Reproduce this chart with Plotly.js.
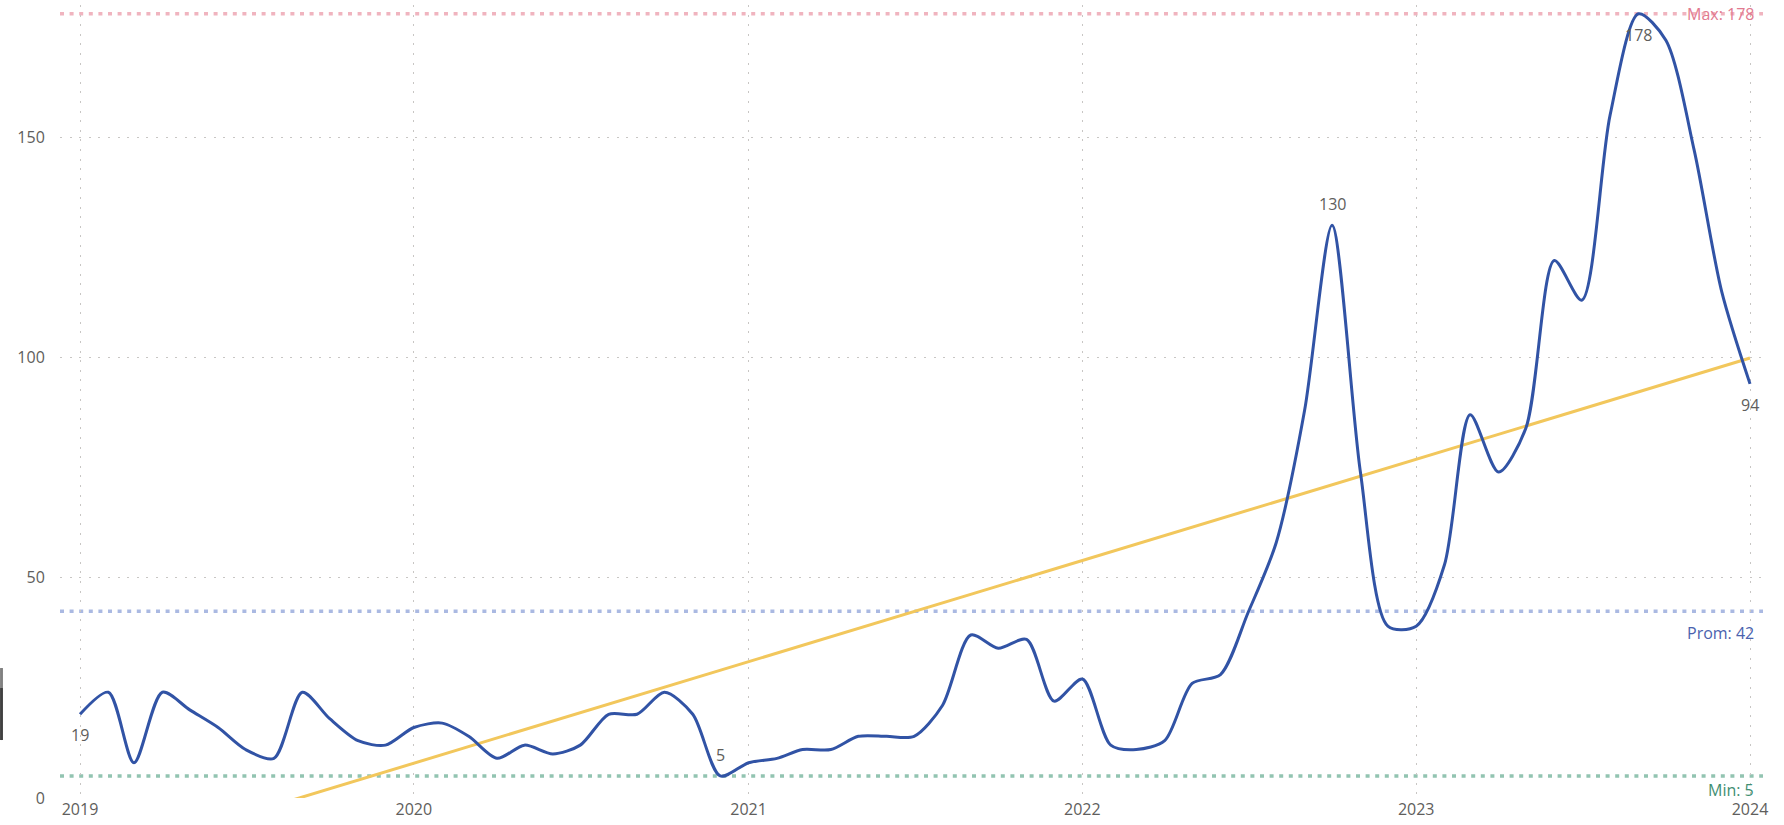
<!DOCTYPE html>
<html>
<head>
<meta charset="utf-8">
<script src="https://cdn.plot.ly/plotly-3.0.1.min.js"></script>
<style>
  html, body { margin: 0; padding: 0; background: #fff; }
  #chart { width: 1784px; height: 825px; }
</style>
</head>
<body>
<div id="chart"></div>
<script>
// monthly values, 2019-01 .. 2024-01
var startYear = 2019;
var values = [
  19, 24, 8, 24, 20, 16, 11, 9, 24, 18, 13, 12,
  16, 17, 14, 9, 12, 10, 12, 19, 19, 24, 19, 5,
  8, 9, 11, 11, 14, 14, 14, 21, 37, 34, 36, 22,
  27, 12, 11, 13, 26, 28, 42, 58, 88, 130, 74, 39,
  39, 53, 87, 74, 84, 122, 113, 155, 178, 172, 147, 115,
  94
];
// points that carry a value label, and where the label sits
var labelIdx = [0, 23, 45, 56, 60];
var labelPos = ['below', 'above', 'above', 'below', 'below'];

var lineColor = '#3153A5';
var trendColor = '#F2C75C';
var textGray = '#605E5C';

var months = [];
for (var i = 0; i < values.length; i++) {
  var y = startYear + Math.floor(i / 12);
  var m = (i % 12) + 1;
  months.push(y + '-' + (m < 10 ? '0' + m : m) + '-01');
}

// least squares trend
var n = values.length, sx = 0, sy = 0, sxy = 0, sxx = 0;
for (var i = 0; i < n; i++) {
  sx += i; sy += values[i]; sxy += i * values[i]; sxx += i * i;
}
var slope = (n * sxy - sx * sy) / (n * sxx - sx * sx);
var icpt = (sy - slope * sx) / n;
var trend = values.map(function(v, i) { return icpt + slope * i; });

var vMax = Math.max.apply(null, values);
var vMin = Math.min.apply(null, values);
var vAvg = sy / n;

var traceMain = {
  x: months, y: values, type: 'scatter', mode: 'lines',
  line: {color: lineColor, width: 3, shape: 'spline', smoothing: 0.8},
  hoverinfo: 'x+y'
};
var traceTrend = {
  x: [months[0], months[n - 1]], y: [trend[0], trend[n - 1]],
  type: 'scatter', mode: 'lines',
  line: {color: trendColor, width: 3},
  hoverinfo: 'skip'
};

function refLine(val, color) {
  return {
    type: 'line', xref: 'paper', x0: 0, x1: 1, yref: 'y', y0: val, y1: val,
    line: {color: color, width: 3.5, dash: '4px,5.6px'}, layer: 'below'
  };
}
function refLabel(text, val, color, shift) {
  return {
    xref: 'paper', x: 1, xanchor: 'right', xshift: -7,
    yref: 'y', y: val, yanchor: 'middle', yshift: shift,
    text: text, showarrow: false,
    font: {size: 16, color: color}
  };
}

var annotations = [
  refLabel('Max: ' + vMax, vMax, '#E27A90', 0),
  refLabel('Prom: ' + Math.round(vAvg), vAvg, '#4A62AE', -22),
  refLabel('Min: ' + vMin, vMin, '#3F8F72', -14)
];
labelIdx.forEach(function(k, j) {
  annotations.push({
    x: months[k], y: values[k], xref: 'x', yref: 'y',
    text: String(values[k]), showarrow: false,
    yshift: labelPos[j] === 'above' ? 21 : -21,
    font: {size: 16, color: textGray}
  });
});

var shapes = [
  refLine(vMax, '#F0B4BF'),
  refLine(vAvg, '#AAB9E2'),
  refLine(vMin, '#92C4B1'),
  // bits of the neighbouring visual at the left edge
  {type: 'rect', xref: 'paper', yref: 'paper', x0: -0.0352, x1: -0.0335, y0: 0.1387, y1: 0.1639,
   fillcolor: '#808080', line: {width: 0}},
  {type: 'rect', xref: 'paper', yref: 'paper', x0: -0.0352, x1: -0.0335, y0: 0.0731, y1: 0.1387,
   fillcolor: '#404040', line: {width: 0}}
];

var layout = {
  width: 1784, height: 825,
  margin: {l: 60, r: 21, t: 5, b: 27},
  paper_bgcolor: '#ffffff', plot_bgcolor: '#ffffff',
  showlegend: false,
  font: {family: 'Segoe UI, Open Sans, sans-serif', size: 16, color: textGray},
  xaxis: {
    type: 'date',
    range: ['2018-12-10 03:00', '2024-01-15 05:00'],
    dtick: 'M12', tick0: '2019-01-01', tickformat: '%Y',
    showgrid: true, gridcolor: '#C8C6C4', gridwidth: 1, griddash: '2px,7.6px',
    zeroline: false, showline: false,
    ticks: '',
    tickfont: {size: 16, color: textGray}
  },
  yaxis: {
    range: [0, 180], dtick: 50, tick0: 0,
    showgrid: true, gridcolor: '#C8C6C4', gridwidth: 1, griddash: '2px,7.6px',
    zeroline: false, showline: false,
    ticks: 'outside', ticklen: 11, tickcolor: 'rgba(0,0,0,0)',
    tickfont: {size: 16, color: textGray}
  },
  shapes: shapes,
  annotations: annotations
};

Plotly.newPlot('chart', [traceTrend, traceMain], layout, {displayModeBar: false, staticPlot: true});
</script>
</body>
</html>
